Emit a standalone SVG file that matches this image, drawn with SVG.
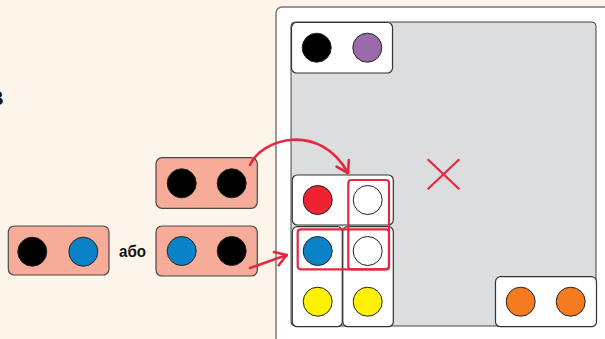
<svg xmlns="http://www.w3.org/2000/svg" width="605" height="339" viewBox="0 0 605 339">
<defs>
<style>
.pink{fill:#f7ab99;stroke:#4a4a4a;stroke-width:1.2}
.tile{fill:#ffffff;stroke:#333;stroke-width:1.2}
.c{stroke:#222;stroke-width:1}
.hl{fill:none;stroke:#e5273f;stroke-width:2.2}
.arr{fill:none;stroke:#e5273f;stroke-width:2.6;stroke-linecap:round}
.lbl{font-family:"Liberation Sans",Arial,sans-serif;font-weight:bold;fill:#111}
</style>
<marker id="ah" markerUnits="userSpaceOnUse" markerWidth="20" markerHeight="20" viewBox="-14 -10 20 20" refX="0" refY="0" orient="auto">
<path d="M-11,-7 L0,0 L-11,7" fill="none" stroke="#e5273f" stroke-width="2.6" stroke-linecap="round" stroke-linejoin="round"/>
</marker>
</defs>
<rect width="605" height="339" fill="#fdf5ea"/>
<text class="lbl" x="-11.5" y="104.5" font-size="21">В</text>
<g id="board">
<rect x="276" y="7" width="345" height="345" rx="6" fill="#ffffff" stroke="#7a7a7a" stroke-width="1.5"/>
<rect x="291" y="22" width="305" height="304" rx="4" fill="#dcdddf" stroke="#444" stroke-width="1"/>
</g>
<g id="tile-top">
<rect class="tile" x="291.5" y="22.5" width="101" height="50.5" rx="5"/>
<circle class="c" cx="316.7" cy="47.7" r="14.5" fill="#000"/>
<circle class="c" cx="367.3" cy="47.7" r="14.5" fill="#9b6aa8"/>
</g>
<g id="tile-orange">
<rect class="tile" x="495.5" y="276.7" width="101" height="50" rx="5"/>
<circle class="c" cx="520.7" cy="301.7" r="14.5" fill="#f47b20"/>
<circle class="c" cx="570.7" cy="301.7" r="14.5" fill="#f47b20"/>
</g>
<g id="tile-red">
<rect class="tile" x="292.3" y="175" width="101" height="50" rx="5"/>
<circle class="c" cx="317.7" cy="200" r="14.5" fill="#ee2233"/>
<circle class="c" cx="367.7" cy="200" r="14.5" fill="#ffffff"/>
</g>
<g id="tile-blue-yellow">
<rect class="tile" x="292.3" y="226.7" width="50" height="100" rx="5"/>
<circle class="c" cx="317.7" cy="251" r="14.5" fill="#0a82c8"/>
<circle class="c" cx="317.7" cy="301.7" r="14.5" fill="#fff200"/>
</g>
<g id="tile-white-yellow">
<rect class="tile" x="342.8" y="226.7" width="50.5" height="100" rx="5"/>
<circle class="c" cx="367.7" cy="251" r="14.5" fill="#ffffff"/>
<circle class="c" cx="367.7" cy="301.7" r="14.5" fill="#fff200"/>
</g>
<g id="highlights">
<rect class="hl" x="348.3" y="180" width="40.7" height="89.3" rx="3"/>
<rect class="hl" x="297.7" y="229.3" width="91.3" height="40" rx="3"/>
</g>
<g id="cross">
<line x1="427.7" y1="159.3" x2="459.3" y2="189.3" stroke="#e5273f" stroke-width="2.2"/>
<line x1="459.3" y1="159.3" x2="427.7" y2="189.3" stroke="#e5273f" stroke-width="2.2"/>
</g>
<g id="pink-left">
<rect class="pink" x="8.3" y="226" width="100.7" height="49" rx="6"/>
<circle class="c" cx="32.3" cy="251.7" r="14.5" fill="#000"/>
<circle class="c" cx="83.3" cy="251.7" r="14.5" fill="#0a82c8"/>
</g>
<text class="lbl" x="119" y="257" font-size="17" textLength="27" lengthAdjust="spacingAndGlyphs">або</text>
<g id="pink-upper">
<rect class="pink" x="156" y="157.7" width="101.3" height="50.6" rx="6"/>
<circle class="c" cx="181.7" cy="183.3" r="14.5" fill="#000"/>
<circle class="c" cx="231.7" cy="183.3" r="14.5" fill="#000"/>
</g>
<g id="pink-lower">
<rect class="pink" x="156" y="226" width="101.3" height="50" rx="6"/>
<circle class="c" cx="181.7" cy="251" r="14.5" fill="#0a82c8"/>
<circle class="c" cx="231.7" cy="251" r="14.5" fill="#000"/>
</g>
<g id="connectors">
<path class="arr" d="M250,165 C262,138 320,122 348,173" marker-end="url(#ah)"/>
<path class="arr" d="M250,268 L286.7,255" marker-end="url(#ah)"/>
</g>
</svg>
